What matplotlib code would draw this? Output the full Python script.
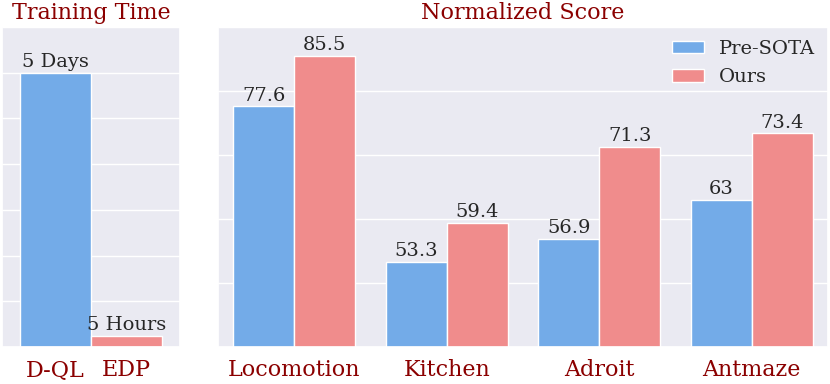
import matplotlib
matplotlib.use("Agg")
import matplotlib.pyplot as plt
import seaborn as sns
import numpy as np

sns.set_theme(style="darkgrid")
plt.rcParams['font.family'] = ['DejaVu Serif']

# Data
time_methods = ["D-QL", "EDP"]
time_hours = [120, 5]
time_labels = ["5 Days", "5 Hours"]

tasks = ["Locomotion", "Kitchen", "Adroit", "Antmaze"]
pre_sota = [77.6, 53.3, 56.9, 63]
ours = [85.5, 59.4, 71.3, 73.4]
pre_sota_labels = ["77.6", "53.3", "56.9", "63"]
ours_labels = ["85.5", "59.4", "71.3", "73.4"]
series_names = ["Pre-SOTA", "Ours"]

blue = "#73ABE8"
pink = "#F08C8C"
title_color = "#8B0000"

fig = plt.figure(figsize=(8.3, 3.84), dpi=100)
ax1 = fig.add_axes([2/830, 37/384, 178/830, 320/384])
ax2 = fig.add_axes([218/830, 37/384, 610/830, 320/384])

# Left: training time
bw = 0.4
xpos = [-0.2, 0.2]
colors = [blue, pink]
bars = ax1.bar(xpos, time_hours, width=bw, color=colors, edgecolor="white", linewidth=1)
for b, lab in zip(bars, time_labels):
    ax1.text(b.get_x() + b.get_width()/2, b.get_height() + 0.8, lab,
             ha="center", va="bottom", fontsize=14, color="#262626")
ax1.set_xlim(-0.5, 0.5)
ax1.set_ylim(0, 140)
ax1.set_yticks(np.arange(0, 141, 20))
ax1.set_yticklabels([])
ax1.set_xticks(xpos)
ax1.set_xticklabels(time_methods, fontsize=16, color=title_color)
ax1.tick_params(axis="x", pad=9, length=0)
ax1.tick_params(axis="y", length=0)
ax1.grid(axis="x", visible=False)
ax1.set_title("Training Time", fontsize=16, color=title_color, pad=6)

# Right: normalized score
x = np.arange(len(tasks))
b1 = ax2.bar(x - 0.2, pre_sota, width=bw, color=blue, edgecolor="white", linewidth=1, label=series_names[0])
b2 = ax2.bar(x + 0.2, ours, width=bw, color=pink, edgecolor="white", linewidth=1, label=series_names[1])
for bars_, labs in ((b1, pre_sota_labels), (b2, ours_labels)):
    for b, lab in zip(bars_, labs):
        ax2.text(b.get_x() + b.get_width()/2, b.get_height() + 0.25, lab,
                 ha="center", va="bottom", fontsize=14, color="#262626")
ax2.set_xlim(-0.5, 3.5)
ax2.set_ylim(40, 90)
ax2.set_yticks([40, 50, 60, 70, 80, 90])
ax2.set_yticklabels([])
ax2.set_xticks(x)
ax2.set_xticklabels(tasks, fontsize=16, color=title_color)
ax2.tick_params(axis="x", pad=9, length=0)
ax2.tick_params(axis="y", length=0)
ax2.grid(axis="x", visible=False)
ax2.set_title("Normalized Score", fontsize=16, color=title_color, pad=6)
ax2.legend(loc="upper right", fontsize=14, frameon=False, handlelength=1.65,
           handleheight=0.6, borderaxespad=0.25, labelspacing=0.55)

fig.savefig("out.png", dpi=100)
